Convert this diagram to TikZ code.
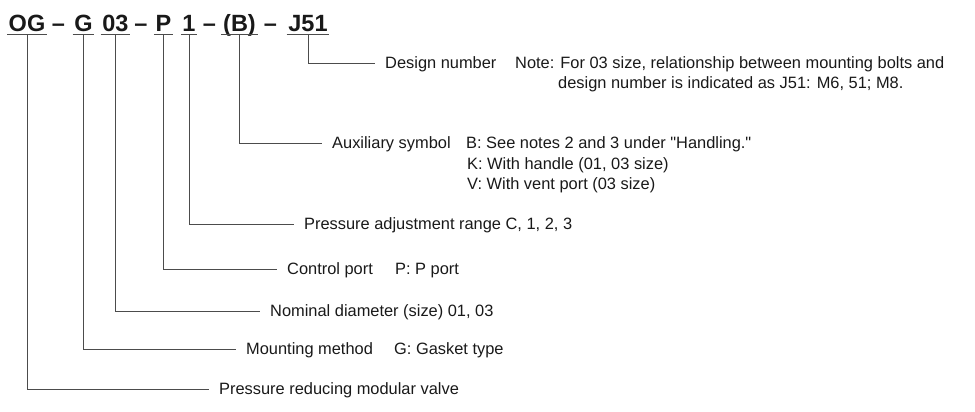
\documentclass[tikz,border=0pt]{standalone}
\usepackage{fontspec}
\setmainfont{Liberation Sans}
\newcommand{\lblfont}{\fontsize{16.4}{20}\selectfont}
\newcommand{\codefont}{\fontsize{23.5}{28}\selectfont\bfseries}
\tikzset{
  code/.style={font=\codefont, anchor=base, inner xsep=1.5pt, inner ysep=0pt,
    text height=17pt, text depth=2.6pt},
  lbl/.style={font=\lblfont, anchor=west, inner xsep=10pt, inner ysep=0pt,
    text height=11.7pt, text depth=0pt},
  opt/.style={lbl, inner xsep=0pt},
  lead/.style={draw=black!70, line width=0.9pt},
}
\begin{document}
\begin{tikzpicture}[x=1pt, y=-1pt, text=black!90]
      \useasboundingbox (0,0) rectangle (975,412);
      \path
        (27,31.7) node[code] (og){OG}
        (58.5,31.7) node[code] (d1){\textendash}
        (83.5,31.7) node[code] (g){G}
        (115.5,31.7) node[code] (size03){03}
        (141,31.7) node[code] (d2){\textendash}
        (163.5,31.7) node[code] (p){P}
        (189,31.7) node[code] (one){1}
        (209.5,31.7) node[code] (d3){\textendash}
        (239.5,31.7) node[code] (b){(B)}
        (270.5,31.7) node[code] (d4){\textendash}
        (308,31.7) node[code] (j51){J51};
      \path
        (375,63) node[lbl] (design){Design number}
        (515,63) node[opt] (note){Note: For 03 size, relationship between mounting bolts and}
        (558,83) node[opt] (note2){design number is indicated as J51: M6, 51; M8.}
        (322,143) node[lbl] (aux){Auxiliary symbol}
        (466,143) node[opt] (auxb){B: See notes 2 and 3 under \textquotedbl Handling.\textquotedbl}
        (467,164) node[opt] (auxk){K: With handle (01, 03 size)}
        (467,184) node[opt] (auxv){V: With vent port (03 size)}
        (294,224) node[lbl] (range){Pressure adjustment range C, 1, 2, 3}
        (277,269) node[lbl] (ctrl){Control port}
        (395,269) node[opt] (ctrlp){P: P port}
        (260,311) node[lbl] (nominal){Nominal diameter (size) 01, 03}
        (236,349) node[lbl] (mount){Mounting method}
        (394,349) node[opt] (mountg){G: Gasket type}
        (209,389) node[lbl] (valve){Pressure reducing modular valve};
      \begin{scope}[lead]
        \draw (og.south west) -- (og.south east);
        \draw (g.south west) -- (g.south east);
        \draw (size03.south west) -- (size03.south east);
        \draw (p.south west) -- (p.south east);
        \draw (one.south west) -- (one.south east);
        \draw (b.south west) -- (b.south east);
        \draw (j51.south west) -- (j51.south east);
        \draw (og.south) |- (valve.west);
        \draw (g.south) |- (mount.west);
        \draw (size03.south) |- (nominal.west);
        \draw (p.south) |- (ctrl.west);
        \draw (one.south) |- (range.west);
        \draw (b.south) |- (aux.west);
        \draw (j51.south) |- (design.west);
      \end{scope}
    \end{tikzpicture}
\end{document}
